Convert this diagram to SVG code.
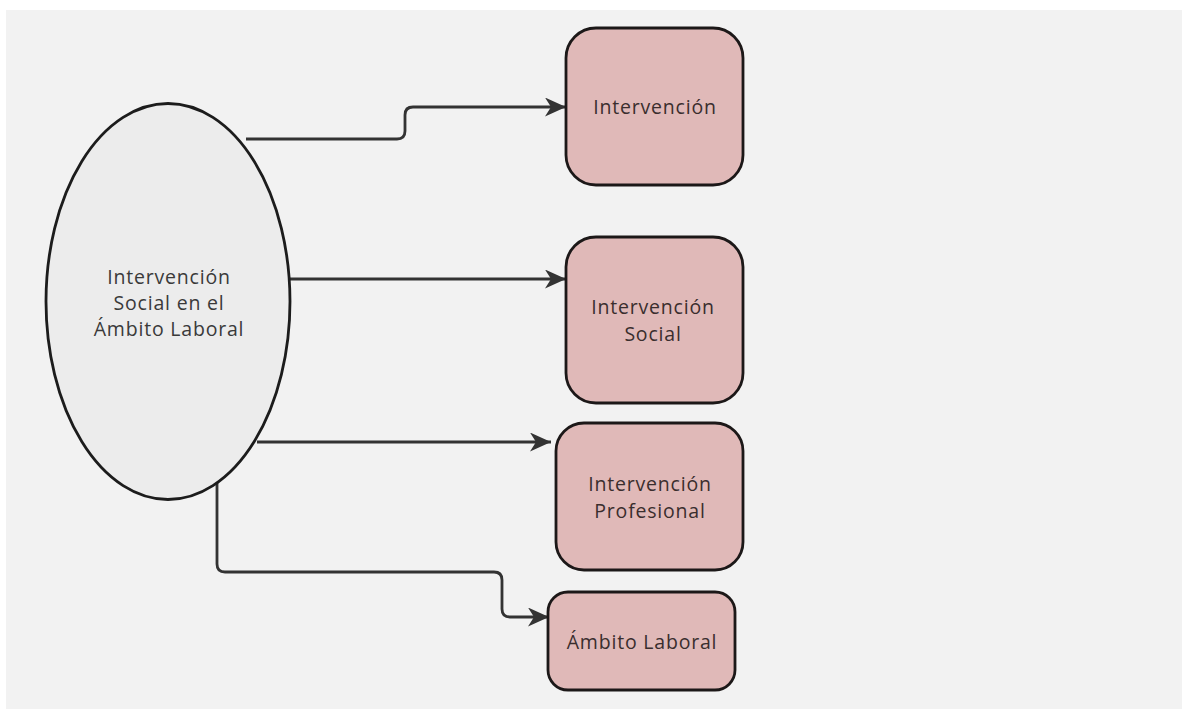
<svg xmlns="http://www.w3.org/2000/svg" width="1182" height="709" viewBox="0 0 1182 709">
<style>
.bg{fill:#f2f2f2}
.box{fill:#e0b9b8;stroke:#1c1818;stroke-width:2.8}
.ell{fill:#ececec;stroke:#1c1c1c;stroke-width:2.8}
.lbl{font-family:"Open Sans","Noto Sans",sans-serif;font-size:19.5px;letter-spacing:0.8px;fill:#3a2e2e;text-anchor:middle}
.lbl2{fill:#3a3a3a}
.conn{fill:none;stroke:#333333;stroke-width:2.8;marker-end:url(#arrow)}
</style>
<defs>
<marker id="arrow" markerUnits="userSpaceOnUse" markerWidth="22" markerHeight="20" refX="21" refY="9.5" orient="auto">
<path d="M0,0 L21,9.5 L0,19 L6,9.5 z" fill="#333333"/>
</marker>
</defs>
<rect class="bg" x="6" y="10" width="1176" height="699"/>
<g id="connectors">
<path class="conn" d="M246,139 H397 Q405,139 405,131 V115 Q405,107 413,107 H566"/>
<path class="conn" d="M290,279 H566"/>
<path class="conn" d="M257,442 H551"/>
<path class="conn" d="M217,483 V564 Q217,572 225,572 H494 Q502,572 502,580 V609 Q502,617 510,617 H549"/>
</g>
<g id="node-main">
<ellipse class="ell" cx="168" cy="301.5" rx="122" ry="198"/>
<text class="lbl lbl2" x="169" y="284">Intervención</text>
<text class="lbl lbl2" x="169" y="310">Social en el</text>
<text class="lbl lbl2" x="169" y="336">Ámbito Laboral</text>
</g>
<g id="node-intervencion">
<rect class="box" x="566" y="28" width="177" height="157" rx="30"/>
<text class="lbl" x="655" y="114">Intervención</text>
</g>
<g id="node-intervencion-social">
<rect class="box" x="566" y="237" width="177" height="166" rx="30"/>
<text class="lbl" x="653" y="314">Intervención</text>
<text class="lbl" x="653" y="341">Social</text>
</g>
<g id="node-intervencion-profesional">
<rect class="box" x="556" y="423" width="187" height="147" rx="28"/>
<text class="lbl" x="650" y="491">Intervención</text>
<text class="lbl" x="650" y="518">Profesional</text>
</g>
<g id="node-ambito-laboral">
<rect class="box" x="548" y="592" width="187" height="98" rx="20"/>
<text class="lbl" x="642" y="649">Ámbito Laboral</text>
</g>
</svg>
